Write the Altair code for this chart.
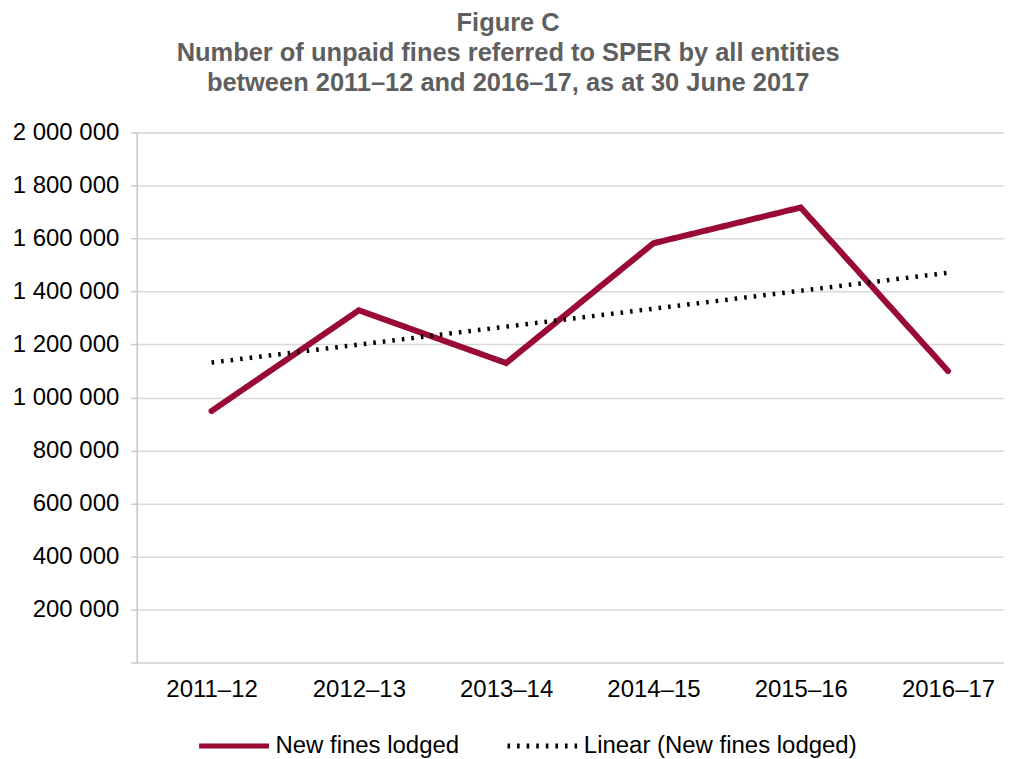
import json
import altair as alt
import pandas as pd

years = ["2011–12", "2012–13", "2013–14", "2014–15", "2015–16", "2016–17"]
new_fines = [949000, 1329000, 1130000, 1582000, 1717000, 1100000]
series_names = ["New fines lodged", "Linear (New fines lodged)"]
y_ticks = [0, 200000, 400000, 600000, 800000, 1000000, 1200000, 1400000, 1600000, 1800000, 2000000]

FONT = "Liberation Sans, Arial, sans-serif"
CRIMSON = "#990A35"
LBL = 24

df = pd.DataFrame({
    "idx": list(range(len(years))),
    "year": years,
    "value": new_fines,
    "series": [series_names[0]] * len(years),
})

label_expr = json.dumps(years, ensure_ascii=False) + "[datum.value]"

x_enc = alt.X(
    "idx:Q",
    title=None,
    scale=alt.Scale(domain=[-0.508, 5.38], nice=False, zero=False),
    axis=alt.Axis(values=list(range(len(years))), labelExpr=label_expr, grid=False,
                  ticks=False, domain=True, domainColor="#d9d9d9", domainWidth=1.5,
                  labelPadding=15, labelFontSize=LBL, labelColor="#000000", labelFont=FONT),
)
y_enc = alt.Y(
    "value:Q",
    title=None,
    scale=alt.Scale(domain=[0, 2000000], nice=False),
    axis=alt.Axis(values=y_ticks,
                  labelExpr="datum.value == 0 ? '' : replace(format(datum.value, ','), regexp(',', 'g'), ' ')",
                  grid=True, gridColor="#d9d9d9", gridWidth=1.5,
                  domain=True, domainColor="#c8c8c8", domainWidth=1.5,
                  ticks=True, tickColor="#c8c8c8", tickSize=6, tickWidth=1.5,
                  labelPadding=12, labelFontSize=LBL, labelColor="#000000", labelFont=FONT),
)

color_enc = alt.Color(
    "series:N",
    scale=alt.Scale(domain=series_names, range=[CRIMSON, "#000000"]),
    legend=alt.Legend(title=None, orient="none", direction="horizontal",
                      legendX=60, legendY=577, symbolType="stroke", symbolSize=4900,
                      symbolStrokeWidth=5, labelFontSize=LBL, labelFont=FONT,
                      labelColor="#000000", labelOffset=4, labelLimit=0, columnPadding=37),
)
dash_enc = alt.StrokeDash(
    "series:N",
    scale=alt.Scale(domain=series_names, range=[[1, 0], [2.6, 7.0]]),
    legend=None,
)

line = alt.Chart(df).mark_line(strokeWidth=6, strokeCap="round", strokeJoin="miter").encode(
    x=x_enc, y=y_enc, color=color_enc, strokeDash=dash_enc
)

trend = alt.Chart(df).transform_regression(
    "idx", "value", method="linear"
).transform_calculate(
    series="'" + series_names[1] + "'"
).mark_line(strokeWidth=4.5).encode(
    x=x_enc, y=y_enc, color=color_enc, strokeDash=dash_enc
)

chart = alt.layer(line, trend).properties(
    width=869,
    height=531,
    padding={"left": 4, "top": 2, "right": 0, "bottom": 0},
    title=alt.TitleParams(
        text=["Figure C",
              "Number of unpaid fines referred to SPER by all entities",
              "between 2011–12 and 2016–17, as at 30 June 2017"],
        fontSize=25.5, fontWeight="bold", color="#5f5f5f", font=FONT,
        lineHeight=30, anchor="middle", frame="bounds", offset=24,
    ),
).configure_view(stroke=None).configure(background="white")

chart.save("out.html", embed_options={"renderer": "svg", "actions": False})
